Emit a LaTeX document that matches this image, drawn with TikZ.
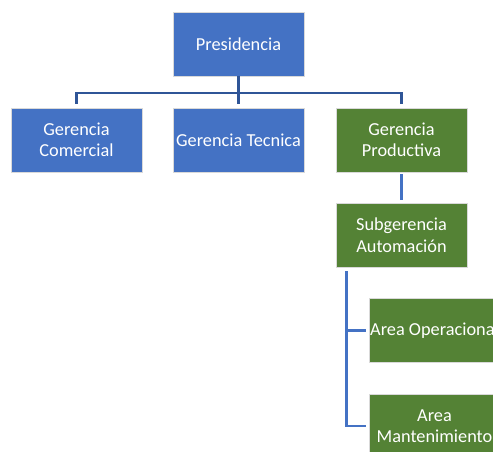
\documentclass[tikz,border=0pt]{standalone}
\usepackage{fontspec}
\setmainfont{Carlito}
\usetikzlibrary{calc}
\definecolor{boxblue}{HTML}{4472C4}
\definecolor{boxgreen}{HTML}{548235}
\definecolor{linedark}{HTML}{2F5597}
\definecolor{linelight}{HTML}{4472C4}
\begin{document}
\begin{tikzpicture}[x=1pt,y=-1pt,
  orgbox/.style={draw=white!85!black, line width=0.6pt, minimum width=131pt, minimum height=64pt,
    inner sep=0pt, text=white, align=center, font=\fontsize{18.3}{21.5}\selectfont},
  bluebox/.style={orgbox, fill=boxblue},
  greenbox/.style={orgbox, fill=boxgreen},
  topline/.style={draw=linedark, line width=2.9pt},
  lowline/.style={draw=linelight, line width=2.6pt}]
\useasboundingbox (0,0) rectangle (493,452);
\clip (0,0) rectangle (493,452);
% boxes
\node[bluebox]  (pres) at (238.5,44)  {Presidencia};
\node[bluebox]  (gc)   at (76.5,140)  {Gerencia\\Comercial};
\node[bluebox]  (gt)   at (238.5,140) {Gerencia Tecnica};
\node[greenbox] (gp)   at (401.5,140) {Gerencia\\Productiva};
\node[greenbox] (sub)  at (401.5,235) {Subgerencia\\Automación};
\node[greenbox] (ao)   at (434.5,330.5) {Area Operacional};
\node[greenbox] (am)   at (434.5,426) {Area\\Mantenimiento};
% upper tree
\draw[topline] (pres.south) -- ++(0,17);
\draw[topline] ($(gc.north)+(0,-4)$) |- (gt.north |- 0,93) -| ($(gp.north)+(0,-4)$);
\draw[topline] ($(gt.north)+(0,-4)$) -- (gt.north |- 0,93);
% lower tree
\draw[lowline] ($(gp.south)+(0,2)$) -- ($(sub.north)+(0,-3)$);
\coordinate (brk) at ($(sub.south west)+(11,4)$);
\draw[lowline] (brk) |- ($(am.west)+(-3,0)$);
\draw[lowline] (ao.west -| brk) -- ($(ao.west)+(-3,0)$);
\end{tikzpicture}
\end{document}
